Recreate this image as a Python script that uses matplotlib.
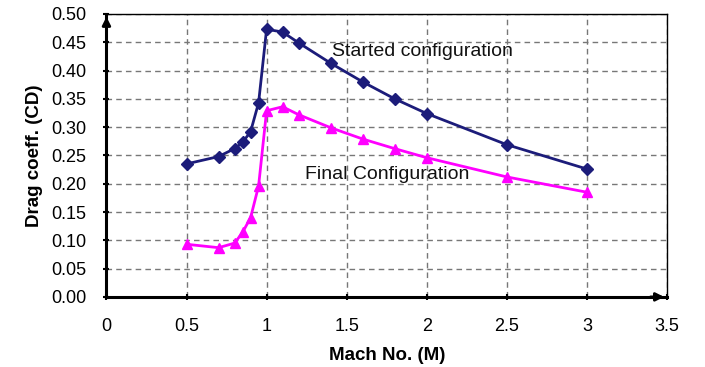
import matplotlib.pyplot as plt

plt.rcParams['font.family'] = ['Liberation Sans', 'DejaVu Sans']

mach = [0.5, 0.7, 0.8, 0.85, 0.9, 0.95, 1.0, 1.1, 1.2, 1.4, 1.6, 1.8, 2.0, 2.5, 3.0]
cd_started = [0.235, 0.248, 0.262, 0.273, 0.292, 0.343, 0.473, 0.468, 0.449, 0.413, 0.380, 0.350, 0.324, 0.269, 0.226]
cd_final = [0.093, 0.087, 0.095, 0.114, 0.140, 0.196, 0.329, 0.336, 0.322, 0.299, 0.279, 0.262, 0.246, 0.212, 0.185]

x_ticks = [0, 0.5, 1, 1.5, 2, 2.5, 3, 3.5]
x_tick_labels = ['0', '0.5', '1', '1.5', '2', '2.5', '3', '3.5']
y_ticks = [0.0, 0.05, 0.10, 0.15, 0.20, 0.25, 0.30, 0.35, 0.40, 0.45, 0.50]

fig = plt.figure(figsize=(7.05, 3.67), dpi=100)
ax = fig.add_axes([0.151, 0.191, 0.795, 0.771])

ax.plot(mach, cd_started, color='#1c1c7a', lw=2, marker='D', ms=6.5, zorder=3)
ax.plot(mach, cd_final, color='#ff00ff', lw=2, marker='^', ms=7.5, zorder=3)

ax.set_xlim(0, 3.5)
ax.set_ylim(0, 0.5)
ax.set_xticks(x_ticks)
ax.set_xticklabels(x_tick_labels)
ax.set_yticks(y_ticks)
ax.set_yticklabels(['%.2f' % v for v in y_ticks])
ax.tick_params(labelsize=13, direction='inout', length=5, width=1.5)
ax.tick_params(axis='x', pad=13)
ax.tick_params(axis='y', pad=12)

ax.grid(True, color='#777777', ls=(0, (4, 3)), lw=1)
for side in ['top', 'right']:
    ax.spines[side].set_linewidth(1)
for side in ['left', 'bottom']:
    ax.spines[side].set_linewidth(2.2)

# arrow heads at the ends of the axes
ax.annotate('', xy=(3.5, 0), xytext=(3.38, 0), xycoords='data',
            arrowprops=dict(arrowstyle='-|>', color='black', lw=2, mutation_scale=12),
            annotation_clip=False, zorder=5)
ax.annotate('', xy=(0, 0.5), xytext=(0, 0.47), xycoords='data',
            arrowprops=dict(arrowstyle='-|>', color='black', lw=2, mutation_scale=12),
            annotation_clip=False, zorder=5)

ax.text(1.41, 0.434, 'Started configuration', fontsize=14, va='center', color='#111111')
ax.text(1.237, 0.217, 'Final Configuration', fontsize=14, va='center', color='#111111')

ax.set_xlabel('Mach No. (M)', fontsize=13.5, fontweight='bold', labelpad=8)
ax.set_ylabel('Drag coeff. (CD)', fontsize=13.5, fontweight='bold', labelpad=6)

fig.savefig('out.png', dpi=100)
